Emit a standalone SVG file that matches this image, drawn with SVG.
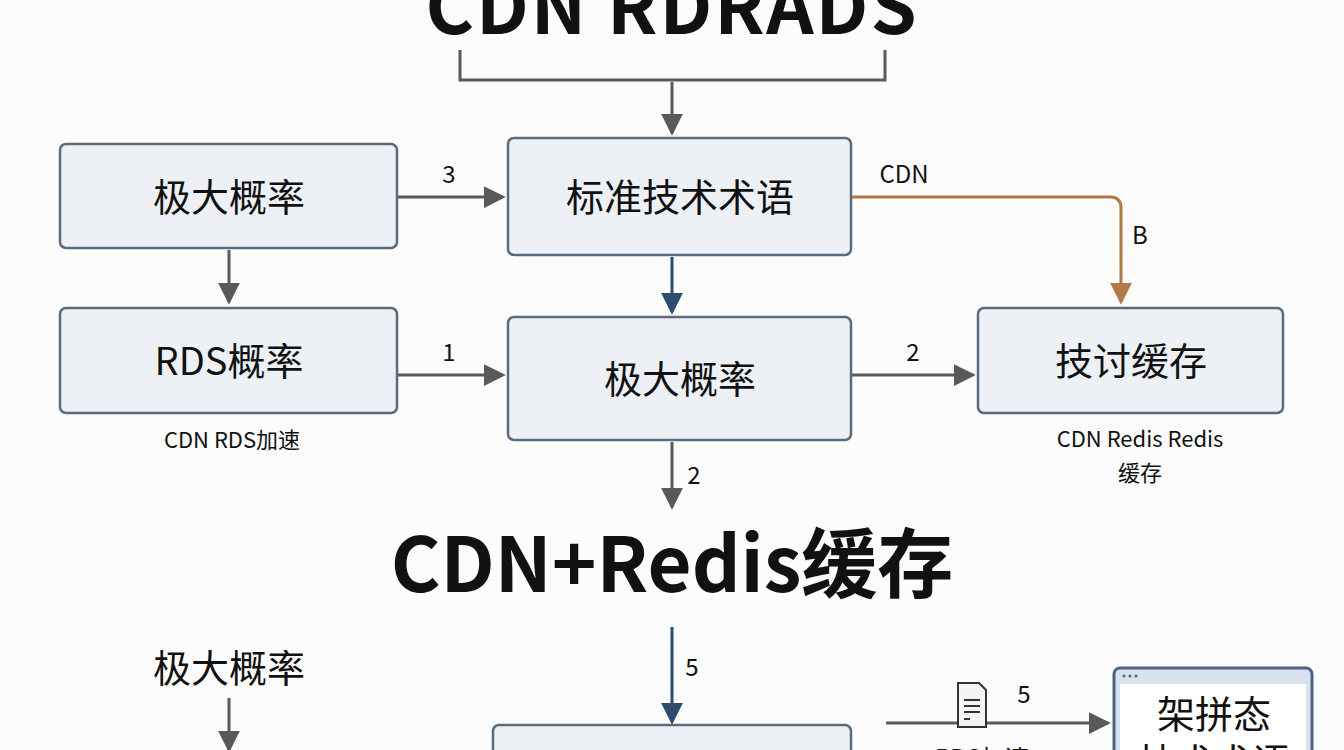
<svg xmlns="http://www.w3.org/2000/svg" width="1344" height="750" viewBox="0 0 1344 750">
<style>
.box{fill:#edf1f6;stroke:#5b6b7e;stroke-width:2.5}
.t{font-family:"Noto Sans CJK SC","Liberation Sans",sans-serif;fill:#111;text-anchor:middle}
.big{font-size:38px}
.lbl{font-size:24px}
.small{font-size:22px}
.g{stroke:#595959;stroke-width:3;fill:none}
.b{stroke:#2e4d6c;stroke-width:3;fill:none}
.o{stroke:#b07a46;stroke-width:3;fill:none}
</style>
<defs>
<marker id="ab" viewBox="0 0 8 8" refX="7" refY="4" orient="auto" markerWidth="22" markerHeight="22" markerUnits="userSpaceOnUse"><path d="M0,0 L8,4 L0,8z" fill="#2e4d6c"/></marker>
<marker id="ag2" viewBox="0 0 8 8" refX="7" refY="4" orient="auto" markerWidth="22" markerHeight="22" markerUnits="userSpaceOnUse"><path d="M0,0 L8,4 L0,8z" fill="#595959"/></marker>
<marker id="ao" viewBox="0 0 8 8" refX="7" refY="4" orient="auto" markerWidth="22" markerHeight="22" markerUnits="userSpaceOnUse"><path d="M0,0 L8,4 L0,8z" fill="#b07a46"/></marker>
</defs>
<rect width="1344" height="750" fill="#fcfcfc"/>
<text class="t" x="672" y="34" font-size="74" font-weight="bold" letter-spacing="2" font-family="Liberation Sans,sans-serif">CDN RDRADS</text>
<text class="t" x="672" y="592" font-size="76" font-weight="bold">CDN+Redis缓存</text>
<g id="connectors">
<path class="g" d="M460,50 V80 H885 V50"/>
<path class="g" d="M672,82 V133" marker-end="url(#ag2)"/>
<path class="g" d="M398,197 H503" marker-end="url(#ag2)"/>
<text class="t lbl" x="449" y="183">3</text>
<path class="g" d="M229,250 V302" marker-end="url(#ag2)"/>
<path class="b" d="M672,257 V312" marker-end="url(#ab)"/>
<path class="o" d="M852,197 H1110 Q1121,197 1121,208 V302" marker-end="url(#ao)"/>
<text class="t lbl" x="904" y="183">CDN</text>
<text class="t lbl" x="1140" y="244">B</text>
<path class="g" d="M398,375 H503" marker-end="url(#ag2)"/>
<text class="t lbl" x="449" y="361">1</text>
<path class="g" d="M852,375 H973" marker-end="url(#ag2)"/>
<text class="t lbl" x="913" y="361">2</text>
<path class="g" d="M672,442 V507" marker-end="url(#ag2)"/>
<text class="t lbl" x="694" y="484">2</text>
<path class="b" d="M672,627 V722" marker-end="url(#ab)"/>
<text class="t lbl" x="692" y="676">5</text>
<path class="g" d="M229,698 V750" marker-end="url(#ag2)"/>
<path class="g" d="M886,723 H1108" marker-end="url(#ag2)"/>
<text class="t lbl" x="1024" y="703">5</text>
</g>
<g id="n1"><rect class="box" x="60" y="144" width="337" height="104" rx="6"/><text class="t big" x="229" y="211">极大概率</text></g>
<g id="n2"><rect class="box" x="508" y="138" width="343" height="117" rx="6"/><text class="t big" x="680" y="211">标准技术术语</text></g>
<g id="n3"><rect class="box" x="60" y="308" width="337" height="105" rx="6"/><text class="t big" x="229" y="375">RDS概率</text><text class="t small" x="232" y="448">CDN RDS加速</text></g>
<g id="n4"><rect class="box" x="508" y="317" width="343" height="123" rx="6"/><text class="t big" x="680" y="393">极大概率</text></g>
<g id="n5"><rect class="box" x="978" y="308" width="305" height="105" rx="6"/><text class="t big" x="1131" y="375">技讨缓存</text><text class="t small" x="1140" y="447">CDN Redis Redis</text><text class="t small" x="1140" y="481">缓存</text></g>
<g id="n6"><text class="t big" x="229" y="682">极大概率</text></g>
<g id="n7"><rect class="box" x="493" y="725" width="358" height="60" rx="6"/></g>
<g id="n8"><rect x="1114" y="668" width="198" height="100" rx="6" fill="#d9e3ee" stroke="#4d6580" stroke-width="3"/><rect x="1120" y="684" width="186" height="84" fill="#ffffff"/><circle cx="1124" cy="676" r="1.5" fill="#4d6580"/><circle cx="1130" cy="676" r="1.5" fill="#4d6580"/><circle cx="1136" cy="676" r="1.5" fill="#4d6580"/><text class="t big" x="1214" y="728">架拼态</text><text class="t big" x="1214" y="776">技术术语</text></g>
<g id="doc"><path d="M958,683 H979 L986,690 V727 H958 Z" fill="#f4f4f4" stroke="#333" stroke-width="2"/><path d="M964,700 H980 M964,706 H980 M964,712 H980 M964,719 H970" stroke="#333" stroke-width="2"/></g>
<text class="t lbl" x="982" y="767">RDS加速</text>
</svg>
